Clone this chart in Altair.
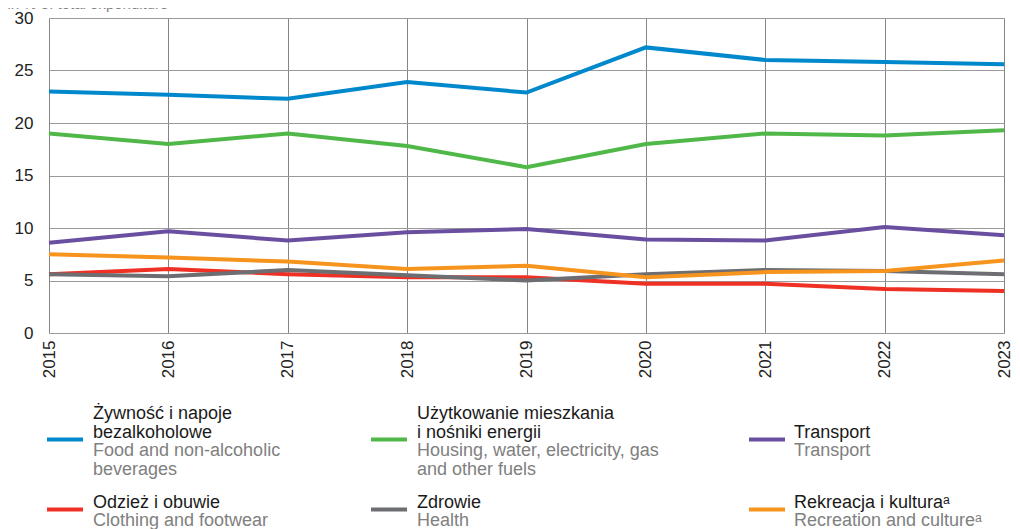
import altair as alt
import pandas as pd

years = [2015, 2016, 2017, 2018, 2019, 2020, 2021, 2022, 2023]

food = [23.0, 22.7, 22.3, 23.9, 22.9, 27.2, 26.0, 25.8, 25.6]
housing = [19.0, 18.0, 19.0, 17.8, 15.8, 18.0, 19.0, 18.8, 19.3]
transport = [8.6, 9.7, 8.8, 9.6, 9.9, 8.9, 8.8, 10.1, 9.3]
clothing = [5.6, 6.1, 5.6, 5.3, 5.3, 4.7, 4.7, 4.2, 4.0]
health = [5.6, 5.4, 6.0, 5.5, 5.0, 5.6, 6.0, 5.9, 5.6]
recreation = [7.5, 7.2, 6.8, 6.1, 6.4, 5.3, 5.8, 5.9, 6.9]

series_keys = ["food", "housing", "transport", "clothing", "health", "recreation"]
series_values = [food, housing, transport, clothing, health, recreation]
series_colors = ["#0088cc", "#50b848", "#6a4fa0", "#ee3124", "#6d6e71", "#f7941d"]

legend_pl = [
    ["Żywność i napoje", "bezalkoholowe"],
    ["Użytkowanie mieszkania", "i nośniki energii"],
    ["Transport"],
    ["Odzież i obuwie"],
    ["Zdrowie"],
    ["Rekreacja i kulturaᵃ"],
]
legend_en = [
    ["Food and non-alcoholic", "beverages"],
    ["Housing, water, electricity, gas", "and other fuels"],
    ["Transport"],
    ["Clothing and footwear"],
    ["Health"],
    ["Recreation and cultureᵃ"],
]
legend_order = ["food", "housing", "transport", "clothing", "health", "recreation"]

y_title = "in % of total expenditure"

FONT = "Liberation Sans"

# ---- line data
rows = []
for key, vals in zip(series_keys, series_values):
    for yr, v in zip(years, vals):
        rows.append({"year": yr, "value": v, "series": key})
df = pd.DataFrame(rows)

W, H = 955, 315

# ---- legend layout (pixel positions relative to plot origin)
col_swatch_x = [-2, 322, 700]
col_text_x = [44, 368, 745]
row_swatch_y = [421.5, 491.5]
line_step = 18.5

sw_rows, txt_rows = [], []
for i, key in enumerate(legend_order):
    c, r = i % 3, i // 3
    color = series_colors[series_keys.index(key)]
    sy = row_swatch_y[r]
    sw_rows.append({"x": col_swatch_x[c], "x2": col_swatch_x[c] + 36, "y": sy, "color": color})
    lines = [(t, "#1a1a1a") for t in legend_pl[i]] + [(t, "#808080") for t in legend_en[i]]
    n = len(lines)
    for j, (t, tc) in enumerate(lines):
        txt_rows.append({"x": col_text_x[c], "y": sy + (j - (n - 1) / 2) * line_step + 7.5,
                         "text": t, "tcolor": tc})
sw_df = pd.DataFrame(sw_rows)
txt_df = pd.DataFrame(txt_rows)

color_scale = alt.Scale(domain=series_keys, range=series_colors)

lines_chart = alt.Chart(df).mark_line(strokeWidth=4, strokeCap="butt", strokeJoin="miter").encode(
    x=alt.X("year:O", scale=alt.Scale(type="point", padding=0),
            axis=alt.Axis(title=None, labelAngle=270, labelAlign="right", labelBaseline="middle",
                          labelPadding=7, ticks=False, domain=False, grid=True,
                          gridColor="#858585", gridWidth=1, labelFontSize=17,
                          labelFont=FONT, labelColor="#222222")),
    y=alt.Y("value:Q", scale=alt.Scale(domain=[0, 30], nice=False),
            axis=alt.Axis(values=[0, 5, 10, 15, 20, 25, 30], title=y_title, titleAngle=0,
                          titleAlign="left", titleBaseline="alphabetic", titleX=-42, titleY=-9.5,
                          titleFont=FONT, titleFontSize=15, titleFontWeight="normal",
                          titleColor="#808080",
                          ticks=False, domain=False, grid=True, gridColor="#9a9a9a",
                          gridWidth=1, labelPadding=16, labelFontSize=17, labelFont=FONT,
                          labelColor="#222222")),
    color=alt.Color("series:N", scale=color_scale, legend=None),
    order=alt.Order("series:N"),
    detail="series:N",
)

swatches = alt.Chart(sw_df).mark_rule(strokeWidth=4).encode(
    x=alt.X("x:Q", scale=None, axis=None),
    x2="x2:Q",
    y=alt.Y("y:Q", scale=None, axis=None),
    color=alt.Color("color:N", scale=None, legend=None),
)

texts = alt.Chart(txt_df).mark_text(align="left", baseline="alphabetic", font=FONT, fontSize=18).encode(
    x=alt.X("x:Q", scale=None, axis=None),
    y=alt.Y("y:Q", scale=None, axis=None),
    text="text:N",
    color=alt.Color("tcolor:N", scale=None, legend=None),
)

chart = alt.layer(lines_chart, swatches, texts).resolve_scale(
    x="independent", y="independent", color="independent"
).properties(
    width=W, height=H,
    autosize=alt.AutoSizeParams(type="none"),
    padding={"left": 41, "top": 10, "right": 8, "bottom": 196},
).configure_view(stroke=None)

chart.save("out.html", embed_options={"renderer": "svg", "actions": False})
